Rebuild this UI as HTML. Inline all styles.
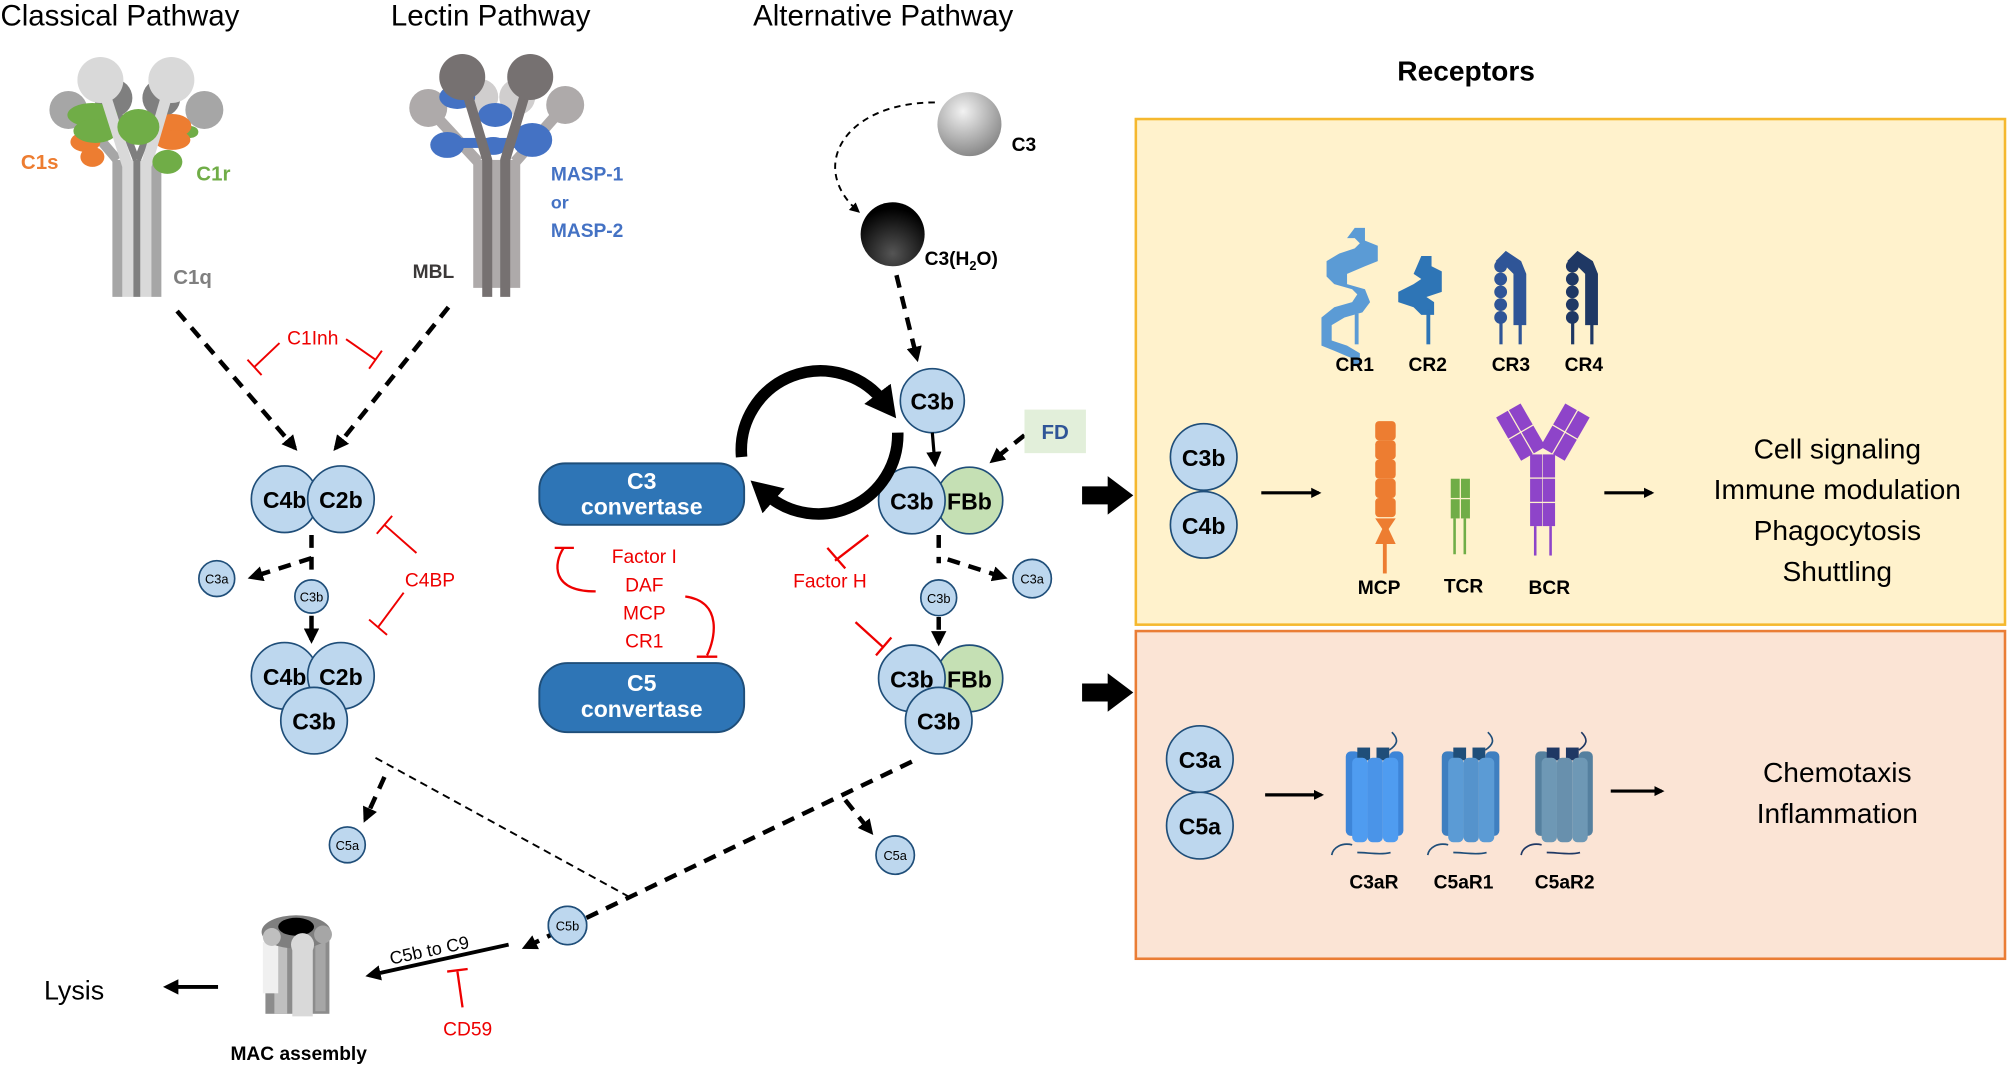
<!DOCTYPE html>
<html><head><meta charset="utf-8"><style>
html,body{margin:0;padding:0;background:#fff;width:2008px;height:1065px;overflow:hidden}
svg{display:block}
text{font-family:"Liberation Sans",sans-serif}
.b{font-weight:bold}
</style></head><body>
<svg width="2008" height="1065" viewBox="0 0 1568 832" xmlns="http://www.w3.org/2000/svg">
<defs>
<marker id="ah" markerWidth="8" markerHeight="8" refX="6" refY="4" orient="auto" markerUnits="userSpaceOnUse"><path d="M0,0 L8,4 L0,8 z" fill="#000"/></marker>
<marker id="ah2" markerWidth="12" markerHeight="12" refX="9" refY="6" orient="auto" markerUnits="userSpaceOnUse"><path d="M0,0 L12,6 L0,12 z" fill="#000"/></marker>
<marker id="ah3" markerWidth="26" markerHeight="26" refX="8" refY="13" orient="auto" markerUnits="userSpaceOnUse"><path d="M0,0 L24,13 L0,26 z" fill="#000"/></marker>
<radialGradient id="g3" cx="40%" cy="30%" r="70%"><stop offset="0" stop-color="#f2f2f2"/><stop offset="1" stop-color="#8a8a8a"/></radialGradient>
<radialGradient id="g4" cx="50%" cy="80%" r="70%"><stop offset="0" stop-color="#555"/><stop offset="1" stop-color="#000"/></radialGradient>
</defs>
<!-- titles -->
<text x="0" y="20" font-size="23">Classical Pathway</text>
<text x="305" y="20" font-size="23">Lectin Pathway</text>
<text x="588" y="20" font-size="23">Alternative Pathway</text>
<text x="1145" y="63" font-size="22" class="b" text-anchor="middle">Receptors</text>

<!-- boxes -->
<rect x="887" y="93" width="679" height="395" fill="#fff2cc" stroke="#f5b82e" stroke-width="2"/>
<rect x="887" y="493" width="679" height="256" fill="#fbe4d5" stroke="#ea7d35" stroke-width="2"/>

<!-- C1 complex (2008 coords) -->
<g transform="scale(0.78088)">
<rect x="112" y="160" width="10" height="137" fill="#a6a6a6"/>
<rect x="122" y="160" width="11" height="137" fill="#d9d9d9"/>
<rect x="133" y="160" width="7" height="137" fill="#7f7f7f"/>
<rect x="140" y="160" width="11" height="137" fill="#d9d9d9"/>
<rect x="151" y="160" width="10" height="137" fill="#a6a6a6"/>
<circle cx="68" cy="110" r="19" fill="#a6a6a6"/><circle cx="204" cy="110" r="19" fill="#a6a6a6"/>
<circle cx="113" cy="98" r="19" fill="#7f7f7f"/><circle cx="161" cy="98" r="19" fill="#7f7f7f"/>
<path d="M100,140 L117,160" stroke="#a6a6a6" stroke-width="10"/>
<path d="M113,100 L136,160" stroke="#7f7f7f" stroke-width="7"/><path d="M161,100 L137,160" stroke="#7f7f7f" stroke-width="7"/>
<ellipse cx="85" cy="142" rx="15" ry="10" fill="#ed7d31"/><ellipse cx="92" cy="157" rx="12" ry="10" fill="#ed7d31"/>
<ellipse cx="92" cy="115" rx="25" ry="12" fill="#70ad47"/><ellipse cx="95" cy="131" rx="22" ry="12" fill="#70ad47"/>
<ellipse cx="190" cy="132" rx="8" ry="6" fill="#70ad47"/>
<ellipse cx="172" cy="126" rx="19" ry="12" fill="#ed7d31"/><ellipse cx="172" cy="140" rx="18" ry="10" fill="#ed7d31"/>
<path d="M100,80 L127,165" stroke="#d9d9d9" stroke-width="11"/><path d="M171,80 L146,165" stroke="#d9d9d9" stroke-width="11"/>
<ellipse cx="138" cy="127" rx="21" ry="18" fill="#70ad47"/>
<ellipse cx="167" cy="162" rx="15" ry="12" fill="#70ad47"/>
<circle cx="100" cy="80" r="23" fill="#d9d9d9"/><circle cx="171" cy="80" r="23" fill="#d9d9d9"/>
</g>
<text x="16" y="132" font-size="16" fill="#ed7d31" class="b">C1s</text>
<text x="153" y="141" font-size="16" fill="#70ad47" class="b">C1r</text>
<text x="135" y="222" font-size="16" fill="#7f7f7f" class="b">C1q</text>

<!-- MBL (2008 coords) -->
<g transform="scale(0.78088)">
<rect x="473" y="160" width="47" height="128" fill="#aeaaaa"/>
<circle cx="428" cy="108" r="19" fill="#aeaaaa"/><circle cx="565" cy="105" r="19" fill="#aeaaaa"/>
<path d="M428,108 L478,162" stroke="#aeaaaa" stroke-width="11"/><path d="M565,105 L515,162" stroke="#aeaaaa" stroke-width="11"/>
<circle cx="480" cy="97" r="18" fill="#d0cece"/><circle cx="517" cy="97" r="18" fill="#d0cece"/>
<ellipse cx="457" cy="97" rx="18" ry="12" fill="#4472c4"/><ellipse cx="495" cy="115" rx="17" ry="12" fill="#4472c4"/>
<rect x="447" y="138" width="85" height="10" fill="#4472c4"/>
<ellipse cx="447" cy="145" rx="17" ry="13" fill="#4472c4"/><ellipse cx="532" cy="140" rx="20" ry="17" fill="#4472c4"/>
<ellipse cx="493" cy="146" rx="14" ry="9" fill="#4472c4"/>
<path d="M462,77 L487,160 L487,297" stroke="#767171" stroke-width="10" fill="none"/>
<path d="M530,77 L505,160 L505,297" stroke="#767171" stroke-width="10" fill="none"/>
<circle cx="462" cy="77" r="23" fill="#767171"/><circle cx="530" cy="77" r="23" fill="#767171"/>
</g>
<text x="322" y="217" font-size="15" fill="#3b3838" class="b">MBL</text>
<text x="430" y="141" font-size="15" fill="#4472c4" class="b">MASP-1</text>
<text x="430" y="163" font-size="14" fill="#4472c4" class="b">or</text>
<text x="430" y="185" font-size="15" fill="#4472c4" class="b">MASP-2</text>

<!-- classical dashed -->
<g stroke="#000" stroke-width="3.5" stroke-dasharray="10,7" fill="none">
<line x1="138" y1="243" x2="230" y2="350" marker-end="url(#ah2)"/>
<line x1="350" y1="240" x2="262" y2="350" marker-end="url(#ah2)"/>
<line x1="243" y1="418" x2="243" y2="445"/>
<line x1="243" y1="436" x2="196" y2="451" marker-end="url(#ah2)"/>
<line x1="243" y1="481" x2="243" y2="500" marker-end="url(#ah2)"/>
</g>
<g stroke="#e00" stroke-width="1.5" fill="none">
<line x1="270" y1="265" x2="293" y2="281"/><line x1="288" y1="288" x2="298" y2="274"/>
<line x1="218" y1="268" x2="198" y2="287"/><line x1="193" y1="281" x2="204" y2="293"/>
<line x1="325" y1="432" x2="300" y2="410"/><line x1="294" y1="417" x2="306" y2="403"/>
<line x1="315" y1="463" x2="295" y2="490"/><line x1="288" y1="484" x2="302" y2="496"/>
</g>
<text x="244" y="269" font-size="15" fill="#e00" text-anchor="middle">C1Inh</text>
<text x="316" y="458" font-size="15" fill="#e00">C4BP</text>

<g stroke="#1f4e79" stroke-width="1.3" fill="#bdd7ee">
<circle cx="222" cy="390" r="26"/><circle cx="266" cy="390" r="26"/>
<circle cx="243" cy="466" r="13"/><circle cx="169" cy="452" r="14"/>
<circle cx="222" cy="528" r="26"/><circle cx="266" cy="528" r="26"/><circle cx="245" cy="563" r="26"/>
<circle cx="271" cy="660" r="14"/><circle cx="443" cy="723" r="15"/>
<circle cx="728" cy="313" r="25"/>
<circle cx="733" cy="467" r="14"/><circle cx="806" cy="452" r="15"/>
<circle cx="699" cy="668" r="15"/>
<circle cx="940" cy="357" r="26"/><circle cx="940" cy="410" r="26"/>
<circle cx="937" cy="593" r="26"/><circle cx="937" cy="645" r="26"/>
</g>
<g stroke="#1f4e79" stroke-width="1.3" fill="#c5e0b4">
<circle cx="757" cy="391" r="26"/><circle cx="757" cy="530" r="26"/>
</g>
<g fill="#bdd7ee" stroke="#1f4e79" stroke-width="1.3"><circle cx="712" cy="391" r="26"/><circle cx="712" cy="530" r="26"/><circle cx="733" cy="563" r="26"/></g>
<g font-size="18" class="b" text-anchor="middle">
<text x="222" y="397">C4b</text><text x="266" y="397">C2b</text>
<text x="222" y="535">C4b</text><text x="266" y="535">C2b</text><text x="245" y="570">C3b</text>
<text x="728" y="320">C3b</text><text x="712" y="398">C3b</text><text x="757" y="398">FBb</text>
<text x="712" y="537">C3b</text><text x="757" y="537">FBb</text><text x="733" y="570">C3b</text>
<text x="940" y="364">C3b</text><text x="940" y="417">C4b</text>
<text x="937" y="600">C3a</text><text x="937" y="652">C5a</text>
</g>

<!-- alt path -->
<circle cx="757" cy="97" r="25" fill="url(#g3)"/>
<circle cx="697" cy="183" r="25" fill="url(#g4)"/>
<text x="790" y="118" font-size="15" class="b">C3</text>
<text x="722" y="207" font-size="15" class="b">C3(H<tspan font-size="10" dy="4">2</tspan><tspan dy="-4">O)</tspan></text>
<path d="M730,80 C660,80 630,130 670,165" stroke="#000" stroke-width="1.5" stroke-dasharray="5,4" fill="none" marker-end="url(#ah)"/>
<g stroke="#000" stroke-width="3.5" stroke-dasharray="10,7" fill="none">
<line x1="700" y1="215" x2="716" y2="280" marker-end="url(#ah2)"/>
<line x1="800" y1="340" x2="775" y2="360" marker-end="url(#ah2)"/>
<line x1="733" y1="418" x2="733" y2="440"/>
<line x1="740" y1="437" x2="784" y2="451" marker-end="url(#ah2)"/>
<line x1="733" y1="482" x2="733" y2="502" marker-end="url(#ah2)"/>
<line x1="712" y1="595" x2="410" y2="740" marker-end="url(#ah2)"/>
<line x1="660" y1="625" x2="680" y2="650" marker-end="url(#ah2)"/>
<line x1="300" y1="607" x2="285" y2="640" marker-end="url(#ah2)"/>
</g>
<line x1="728" y1="338" x2="730" y2="362" stroke="#000" stroke-width="2.5" marker-end="url(#ah2)"/>
<line x1="293" y1="592" x2="490" y2="700" stroke="#000" stroke-width="1.5" stroke-dasharray="6,4"/>
<g font-size="10" text-anchor="middle">
<text x="243" y="470">C3b</text><text x="169" y="456">C3a</text><text x="271" y="664">C5a</text>
<text x="733" y="471">C3b</text><text x="806" y="456">C3a</text><text x="699" y="672">C5a</text>
</g>
<circle cx="443" cy="723" r="15" fill="#bdd7ee" stroke="#1f4e79" stroke-width="1.3"/>
<text x="443" y="727" font-size="10" text-anchor="middle">C5b</text>
<rect x="800" y="320" width="48" height="34" fill="#e2efda"/>
<text x="824" y="343" font-size="16" fill="#2f5597" class="b" text-anchor="middle">FD</text>

<!-- cycle -->
<path d="M579,357 A62,62 0 0 1 690,314" stroke="#000" stroke-width="9" fill="none" marker-end="url(#ah3)"/>
<path d="M701,338 A62,62 0 0 1 598,386" stroke="#000" stroke-width="9" fill="none" marker-end="url(#ah3)"/>

<rect x="421" y="362" width="160" height="48" rx="20" fill="#2e75b6" stroke="#1f4e79" stroke-width="1.5"/>
<text x="501" y="382" font-size="18" fill="#fff" class="b" text-anchor="middle">C3</text>
<text x="501" y="402" font-size="18" fill="#fff" class="b" text-anchor="middle">convertase</text>
<rect x="421" y="518" width="160" height="54" rx="22" fill="#2e75b6" stroke="#1f4e79" stroke-width="1.5"/>
<text x="501" y="540" font-size="18" fill="#fff" class="b" text-anchor="middle">C5</text>
<text x="501" y="560" font-size="18" fill="#fff" class="b" text-anchor="middle">convertase</text>
<g font-size="15" fill="#e00" text-anchor="middle">
<text x="503" y="440">Factor I</text><text x="503" y="462">DAF</text><text x="503" y="484">MCP</text><text x="503" y="506">CR1</text>
<text x="648" y="459">Factor H</text><text x="365" y="809">CD59</text>
</g>
<g stroke="#e00" stroke-width="1.8" fill="none">
<path d="M465,462 C430,462 432,440 440,428"/><line x1="433" y1="428" x2="448" y2="428"/>
<path d="M535,466 C565,470 558,500 552,512"/><line x1="544" y1="513" x2="560" y2="513"/>
<line x1="678" y1="418" x2="652" y2="438"/><line x1="646" y1="428" x2="660" y2="444"/>
<line x1="668" y1="486" x2="690" y2="506"/><line x1="684" y1="512" x2="696" y2="498"/>
<line x1="361" y1="787" x2="357" y2="759"/><line x1="349" y1="759" x2="365" y2="757"/>
</g>

<!-- MAC -->
<g>
<rect x="207" y="728" width="50" height="64" fill="#8c8c8c"/>
<rect x="214" y="728" width="10" height="64" fill="#bfbfbf"/><rect x="228" y="730" width="16" height="64" fill="#d9d9d9"/><rect x="246" y="728" width="8" height="62" fill="#a6a6a6"/>
<rect x="205" y="736" width="12" height="40" fill="#f0f0f0"/>
<ellipse cx="231" cy="728" rx="27" ry="13" fill="#7f7f7f"/><ellipse cx="231" cy="724" rx="14" ry="7" fill="#000"/>
<circle cx="212" cy="732" r="7" fill="#bfbfbf"/><circle cx="236" cy="738" r="9" fill="#d9d9d9"/><circle cx="252" cy="730" r="7" fill="#a6a6a6"/>
</g>
<text x="233" y="828" font-size="15" class="b" text-anchor="middle">MAC assembly</text>
<line x1="170" y1="771" x2="130" y2="771" stroke="#000" stroke-width="3" marker-end="url(#ah2)"/>
<text x="34" y="781" font-size="21">Lysis</text>
<line x1="397" y1="738" x2="288" y2="762" stroke="#000" stroke-width="3" marker-end="url(#ah2)"/>
<text x="336" y="747" font-size="14" text-anchor="middle" transform="rotate(-12 336 747)">C5b to C9</text>

<!-- big arrows -->
<path d="M845,380 L865,380 L865,372 L885,387 L865,402 L865,394 L845,394 z" fill="#000"/>
<path d="M845,534 L865,534 L865,526 L885,541 L865,556 L865,548 L845,548 z" fill="#000"/>

<!-- receptors yellow -->
<g fill="#5b9bd5">
<path d="M1058,178 l8,0 l0,10 l10,4 l0,12 l-10,4 l-14,6 l0,8 l14,4 l4,10 l-6,8 l-14,4 l-10,6 l0,12 l12,4 l10,6 l0,10 l-6,0 l0,-6 l-14,-6 l-10,-4 l0,-22 l10,-8 l14,-4 l4,-6 l-4,-4 l-14,-4 l-6,-6 l0,-12 l10,-6 l12,-4 l4,-4 l-4,-4 l-6,0 z"/>
<rect x="1058" y="245" width="3" height="24"/>
</g>
<g fill="#2e75b6">
<path d="M1110,200 l8,0 l0,8 l8,4 l0,16 l-12,4 l6,4 l0,10 l-10,0 l-6,-6 l-12,-4 l0,-8 l12,-6 l6,-4 l-6,-4 z"/>
<rect x="1114" y="242" width="3" height="27"/>
</g>
<g fill="#2f5597">
<circle cx="1172" cy="208" r="5"/><circle cx="1172" cy="218" r="5"/><circle cx="1172" cy="228" r="5"/><circle cx="1172" cy="238" r="5"/><circle cx="1172" cy="248" r="5"/>
<path d="M1168,204 l8,-8 l12,8 l4,10 l0,40 l-10,0 l0,-40 l-6,-6 z"/>
<rect x="1171" y="250" width="2.5" height="19"/><rect x="1186" y="250" width="2.5" height="19"/>
</g>
<g fill="#1f3864">
<circle cx="1228" cy="208" r="5"/><circle cx="1228" cy="218" r="5"/><circle cx="1228" cy="228" r="5"/><circle cx="1228" cy="238" r="5"/><circle cx="1228" cy="248" r="5"/>
<path d="M1224,204 l8,-8 l12,8 l4,10 l0,40 l-10,0 l0,-40 l-6,-6 z"/>
<rect x="1227" y="250" width="2.5" height="19"/><rect x="1242" y="250" width="2.5" height="19"/>
</g>
<g font-size="15" class="b" text-anchor="middle">
<text x="1058" y="290">CR1</text><text x="1115" y="290">CR2</text><text x="1180" y="290">CR3</text><text x="1237" y="290">CR4</text>
<text x="1077" y="464">MCP</text><text x="1143" y="463">TCR</text><text x="1210" y="464">BCR</text>
</g>
<line x1="985" y1="385" x2="1030" y2="385" stroke="#000" stroke-width="2.5" marker-end="url(#ah)"/>
<!-- MCP -->
<g fill="#ed7d31">
<rect x="1074" y="329" width="16" height="15" rx="3"/><rect x="1074" y="344" width="16" height="15" rx="3"/><rect x="1074" y="359" width="16" height="15" rx="3"/><rect x="1074" y="374" width="16" height="15" rx="3"/><rect x="1074" y="389" width="16" height="15" rx="3"/>
<path d="M1074,405 l16,0 l-8,12 z"/><path d="M1082,408 l8,17 l-16,0 z"/>
<rect x="1080" y="424" width="3" height="24"/>
</g>
<!-- TCR -->
<g fill="#70ad47">
<rect x="1133" y="374" width="7" height="15"/><rect x="1141" y="374" width="7" height="15"/><rect x="1133" y="390" width="7" height="15"/><rect x="1141" y="390" width="7" height="15"/>
<rect x="1135" y="405" width="2" height="28"/><rect x="1143" y="405" width="2" height="28"/>
</g>
<!-- BCR -->
<g fill="#8e44c9">
<rect x="1195" y="355" width="9.5" height="18"/><rect x="1205" y="355" width="9.5" height="18"/>
<rect x="1195" y="374" width="9.5" height="18"/><rect x="1205" y="374" width="9.5" height="18"/>
<rect x="1195" y="393" width="9.5" height="18"/><rect x="1205" y="393" width="9.5" height="18"/>
<rect x="1198" y="411" width="2" height="23"/><rect x="1210" y="411" width="2" height="23"/>
<g transform="translate(1188,338) rotate(-30)"><rect x="-11" y="-20" width="10.5" height="19"/><rect x="0.5" y="-20" width="10.5" height="19"/><rect x="-11" y="0" width="10.5" height="19"/><rect x="0.5" y="0" width="10.5" height="19"/></g>
<g transform="translate(1222,338) rotate(30)"><rect x="-11" y="-20" width="10.5" height="19"/><rect x="0.5" y="-20" width="10.5" height="19"/><rect x="-11" y="0" width="10.5" height="19"/><rect x="0.5" y="0" width="10.5" height="19"/></g>
</g>
<line x1="1253" y1="385" x2="1290" y2="385" stroke="#000" stroke-width="2.5" marker-end="url(#ah)"/>
<g font-size="22" text-anchor="middle">
<text x="1435" y="358">Cell signaling</text><text x="1435" y="390">Immune modulation</text><text x="1435" y="422">Phagocytosis</text><text x="1435" y="454">Shuttling</text>
<text x="1435" y="611">Chemotaxis</text><text x="1435" y="643">Inflammation</text>
</g>
<!-- pink receptors -->
<line x1="988" y1="621" x2="1032" y2="621" stroke="#000" stroke-width="2.5" marker-end="url(#ah)"/>
<line x1="1258" y1="618" x2="1298" y2="618" stroke="#000" stroke-width="2.5" marker-end="url(#ah)"/>
<g id="gp1">
<rect x="1051" y="587" width="11" height="66" rx="4" fill="#3d85d8"/>
<rect x="1085" y="587" width="11" height="66" rx="4" fill="#3d85d8"/>
<rect x="1060" y="584" width="10" height="10" fill="#1f4e79"/><rect x="1075" y="584" width="10" height="10" fill="#1f4e79"/>
<rect x="1056" y="592" width="12" height="66" rx="4" fill="#4f9cf0"/>
<rect x="1068" y="592" width="12" height="66" rx="4" fill="#4a94e8"/>
<rect x="1080" y="592" width="12" height="66" rx="4" fill="#4f9cf0"/>
<path d="M1085,586 c6,-4 8,-8 2,-14 M1056,660 c-8,-2 -15,2 -16,8 M1060,666 c8,0 18,2 26,0" stroke="#1f4e79" stroke-width="1.3" fill="none"/>
</g>
<g>
<rect x="1126" y="587" width="11" height="66" rx="4" fill="#3f7fc0"/>
<rect x="1160" y="587" width="11" height="66" rx="4" fill="#3f7fc0"/>
<rect x="1135" y="584" width="10" height="10" fill="#1f4e79"/><rect x="1150" y="584" width="10" height="10" fill="#1f4e79"/>
<rect x="1131" y="592" width="12" height="66" rx="4" fill="#5b9bd5"/>
<rect x="1143" y="592" width="12" height="66" rx="4" fill="#5593cc"/>
<rect x="1155" y="592" width="12" height="66" rx="4" fill="#5b9bd5"/>
<path d="M1160,586 c6,-4 8,-8 2,-14 M1131,660 c-8,-2 -15,2 -16,8 M1135,666 c8,0 18,2 26,0" stroke="#1f4e79" stroke-width="1.3" fill="none"/>
</g>
<g>
<rect x="1199" y="587" width="11" height="66" rx="4" fill="#55809f"/>
<rect x="1233" y="587" width="11" height="66" rx="4" fill="#55809f"/>
<rect x="1208" y="584" width="10" height="10" fill="#1f3864"/><rect x="1223" y="584" width="10" height="10" fill="#1f3864"/>
<rect x="1204" y="592" width="12" height="66" rx="4" fill="#6e98b5"/>
<rect x="1216" y="592" width="12" height="66" rx="4" fill="#6890ad"/>
<rect x="1228" y="592" width="12" height="66" rx="4" fill="#6e98b5"/>
<path d="M1233,586 c6,-4 8,-8 2,-14 M1204,660 c-8,-2 -15,2 -16,8 M1208,666 c8,0 18,2 26,0" stroke="#1f3864" stroke-width="1.3" fill="none"/>
</g>
<g font-size="15" class="b" text-anchor="middle">
<text x="1073" y="694">C3aR</text><text x="1143" y="694">C5aR1</text><text x="1222" y="694">C5aR2</text>
</g>
</svg>
</body></html>
